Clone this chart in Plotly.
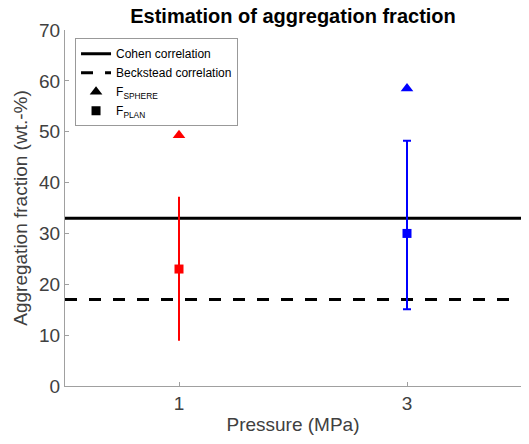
import plotly.graph_objects as go

# Data
pressures = ["1", "3"]
x_pos = [1, 2]
f_sphere = [49.3, 58.5]
f_plan = [23, 30]
plan_upper = [37.2, 48.2]
plan_lower = [8.9, 15.1]
colors = ["#ff0000", "#0000ff"]
cohen = 33
beckstead = 17
x_range = [0.5, 2.5]

FONT = "Liberation Sans, Arial, sans-serif"
fig = go.Figure()

# horizontal correlation lines
fig.add_trace(go.Scatter(x=x_range, y=[cohen, cohen], mode="lines",
                         line=dict(color="black", width=3), name="Cohen correlation"))
fig.add_trace(go.Scatter(x=x_range, y=[beckstead, beckstead], mode="lines",
                         line=dict(color="black", width=3, dash="12px,12px"), name="Beckstead correlation"))
# legend-only marker entries
fig.add_trace(go.Scatter(x=[None], y=[None], mode="markers",
                         marker=dict(symbol="triangle-up", color="black", size=11),
                         name="F<sub>SPHERE</sub>"))
fig.add_trace(go.Scatter(x=[None], y=[None], mode="markers",
                         marker=dict(symbol="square", color="black", size=9),
                         name="F<sub>PLAN</sub>"))

caps = [0, 4]
for i in range(len(x_pos)):
    fig.add_trace(go.Scatter(
        x=[x_pos[i]], y=[f_plan[i]], mode="markers",
        marker=dict(symbol="square", color=colors[i], size=9),
        error_y=dict(type="data", symmetric=False,
                     array=[plan_upper[i] - f_plan[i]],
                     arrayminus=[f_plan[i] - plan_lower[i]],
                     color=colors[i], thickness=2, width=caps[i]),
        showlegend=False))
    fig.add_trace(go.Scatter(
        x=[x_pos[i]], y=[f_sphere[i]], mode="markers",
        marker=dict(symbol="triangle-up", color=colors[i], size=11),
        showlegend=False))

fig.update_layout(
    width=529, height=444,
    margin=dict(l=65, r=8, t=30, b=58),
    paper_bgcolor="white", plot_bgcolor="white",
    font=dict(family=FONT, color="#262626"),
    title=dict(text="<b>Estimation of aggregation fraction</b>", x=0.5, xanchor="center",
               xref="paper", y=0.965, yanchor="middle",
               font=dict(size=20, color="black")),
    legend=dict(x=0.022, y=0.977, xanchor="left", yanchor="top",
                bgcolor="white", bordercolor="#999999", borderwidth=1,
                font=dict(size=12, color="black"), tracegroupgap=0,
                itemwidth=30),
    showlegend=True,
)
fig.update_xaxes(range=x_range, tickvals=x_pos, ticktext=pressures,
                 showgrid=False, zeroline=False, showline=True, linecolor="#a0a0a0",
                 linewidth=1, ticks="inside", ticklen=4, tickcolor="#a0a0a0",
                 tickfont=dict(size=19, color="#404040"),
                 title=dict(text="Pressure (MPa)", font=dict(size=19, color="#404040"), standoff=4))
fig.update_yaxes(range=[0, 70], dtick=10, showgrid=False, zeroline=False,
                 showline=True, linecolor="#a0a0a0", linewidth=1,
                 ticks="inside", ticklen=4, tickcolor="#a0a0a0",
                 tickfont=dict(size=19, color="#404040"),
                 title=dict(text="Aggregation fraction (wt.-%)", font=dict(size=19, color="#404040"), standoff=6))

fig.write_html("out.html")
